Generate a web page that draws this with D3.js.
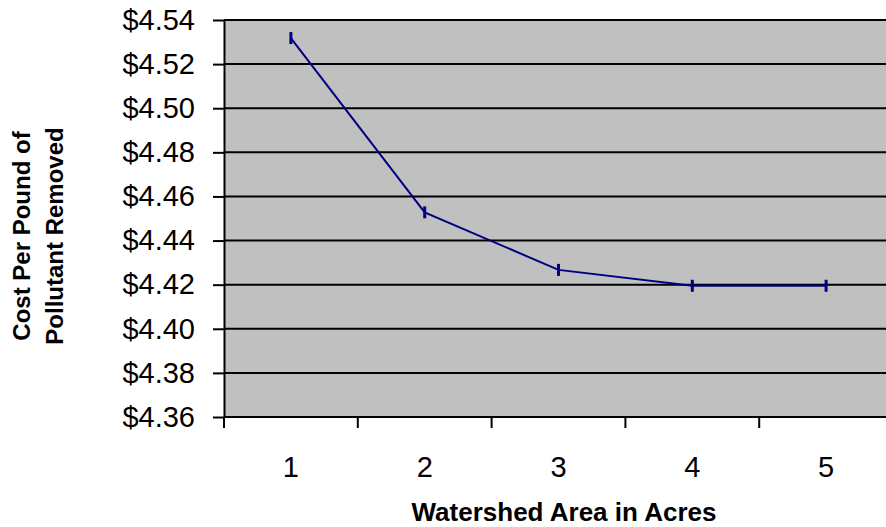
<!DOCTYPE html>
<html>
<head>
<meta charset="utf-8">
<script src="https://cdn.jsdelivr.net/npm/d3@7"></script>
<style>
  html, body { margin: 0; padding: 0; background: #fff; }
  svg { display: block; }
  text { font-family: "Liberation Sans", Arial, sans-serif; fill: #000; }
</style>
</head>
<body>
<svg id="chart" width="886" height="527"></svg>
<script>
const categories = ["1", "2", "3", "4", "5"];
const costValues = [4.5318, 4.4528, 4.4267, 4.4195, 4.4195];
const yTicks = [4.36, 4.38, 4.40, 4.42, 4.44, 4.46, 4.48, 4.50, 4.52, 4.54];
const yTitleLines = ["Cost Per Pound of", "Pollutant Removed"];
const xTitle = "Watershed Area in Acres";

const svg = d3.select("#chart");
const plotLeft = 224, plotRight = 893, plotTop = 20, plotBottom = 417;

const x = d3.scaleBand().domain(categories).range([plotLeft, plotRight]).padding(0);
const y = d3.scaleLinear().domain([4.36, 4.54]).range([plotBottom, plotTop]);

// plot background
svg.append("rect")
  .attr("x", plotLeft).attr("y", plotTop)
  .attr("width", plotRight - plotLeft).attr("height", plotBottom - plotTop)
  .attr("fill", "#C0C0C0");

// gridlines
svg.append("g").selectAll("line")
  .data(yTicks.filter(d => d > 4.36))
  .join("line")
  .attr("x1", plotLeft).attr("x2", plotRight)
  .attr("y1", d => y(d)).attr("y2", d => y(d))
  .attr("stroke", "#000").attr("stroke-width", 2);

// y axis
const yAxis = d3.axisLeft(y).tickValues(yTicks)
  .tickFormat(d => "$" + d.toFixed(2))
  .tickSizeInner(11).tickSizeOuter(0).tickPadding(18);
const gy = svg.append("g").attr("transform", `translate(${plotLeft},0)`).call(yAxis);
gy.select(".domain").attr("stroke", "#000").attr("stroke-width", 2);
gy.selectAll(".tick line").attr("stroke", "#000").attr("stroke-width", 2);
gy.selectAll(".tick text")
  .attr("font-size", 29).attr("font-family", "Liberation Sans, Arial, sans-serif")
  .attr("fill", "#000");

// x axis with ticks at band boundaries
const boundaries = categories.map(c => x(c)).concat([plotRight]);
const gx = svg.append("g");
gx.append("line")
  .attr("x1", plotLeft).attr("x2", plotRight)
  .attr("y1", plotBottom).attr("y2", plotBottom)
  .attr("stroke", "#000").attr("stroke-width", 2);
gx.selectAll("line.tk").data(boundaries).join("line")
  .attr("class", "tk")
  .attr("x1", d => d).attr("x2", d => d)
  .attr("y1", plotBottom).attr("y2", plotBottom + 11)
  .attr("stroke", "#000").attr("stroke-width", 2);
gx.selectAll("text").data(categories).join("text")
  .attr("x", d => x(d) + x.bandwidth() / 2)
  .attr("y", 477)
  .attr("text-anchor", "middle")
  .attr("font-size", 29)
  .text(d => d);

// line series
const line = d3.line()
  .x((d, i) => x(categories[i]) + x.bandwidth() / 2)
  .y(d => y(d));
svg.append("path")
  .datum(costValues)
  .attr("d", line)
  .attr("fill", "none")
  .attr("stroke", "#000080")
  .attr("stroke-width", 2);

// dash markers (vertical bars)
svg.append("g").selectAll("line")
  .data(costValues)
  .join("line")
  .attr("x1", (d, i) => x(categories[i]) + x.bandwidth() / 2)
  .attr("x2", (d, i) => x(categories[i]) + x.bandwidth() / 2)
  .attr("y1", d => y(d) - 6)
  .attr("y2", d => y(d) + 6)
  .attr("stroke", "#000080")
  .attr("stroke-width", 3);

// y axis title
const yt = svg.append("text")
  .attr("transform", "translate(38,236) rotate(-90)")
  .attr("text-anchor", "middle")
  .attr("font-weight", "bold")
  .attr("font-size", 24);
yt.selectAll("tspan").data(yTitleLines).join("tspan")
  .attr("x", 0)
  .attr("dy", (d, i) => i === 0 ? -8 : 33)
  .text(d => d);

// x axis title
svg.append("text")
  .attr("x", 564)
  .attr("y", 521)
  .attr("text-anchor", "middle")
  .attr("font-weight", "bold")
  .attr("font-size", 26)
  .text(xTitle);
</script>
</body>
</html>
